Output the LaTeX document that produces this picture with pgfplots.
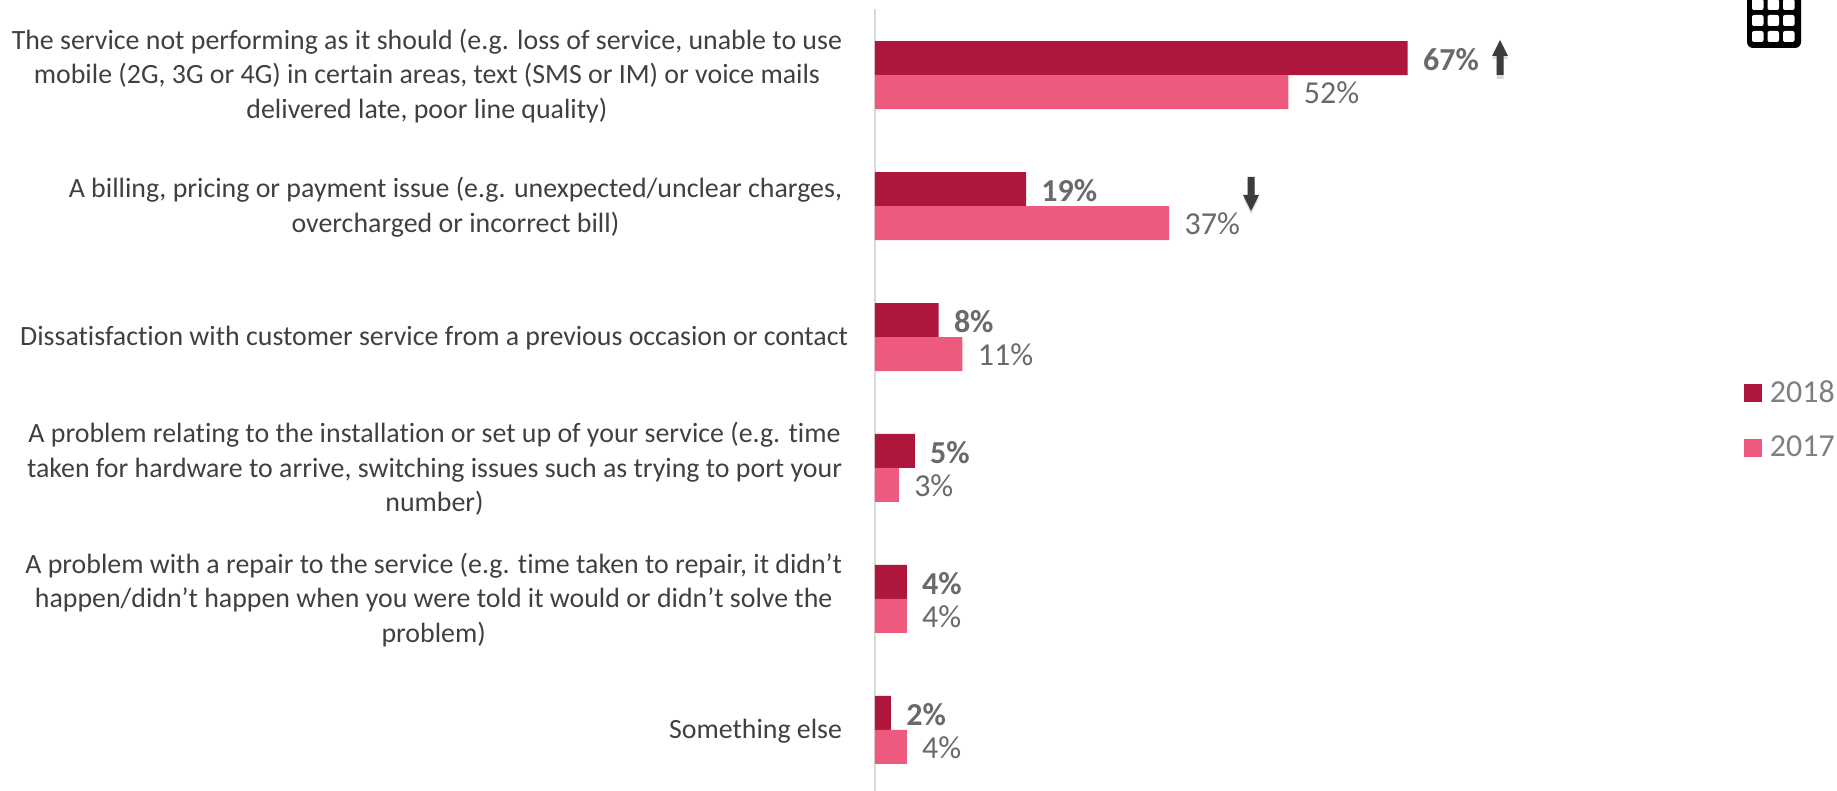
\documentclass[border=0pt]{standalone}
\usepackage{fontspec}
\setmainfont[Ligatures=NoCommon]{Carlito}
\usepackage{pgfplots}
\pgfplotsset{compat=1.18}
\definecolor{darkbar}{HTML}{AE163C}
\definecolor{lightbar}{HTML}{EE5A7E}
\definecolor{labeltext}{HTML}{404040}
\definecolor{valuetext}{HTML}{6A6A6A}
\definecolor{legendtext}{HTML}{7F7F7F}
\definecolor{arrowgrey}{HTML}{3A3D40}
\begin{document}
\begin{tikzpicture}[x=0.5pt,y=-0.5pt]
\useasboundingbox (0,0) rectangle (1837,791);
\begin{axis}[
  at={(437.5pt,-395.5pt)}, anchor=south west,
  scale only axis,
  width=481pt, height=391pt,
  xmin=0, xmax=121,
  ymin=-0.504, ymax=5.466,
  y dir=reverse,
  axis x line=none,
  axis y line*=left,
  axis line style={-, draw=black!15, line width=0.8pt},
  xbar,
  bar width=17pt,
  ytick={0,1,2,3,4,5},
  ytick style={draw=none},
  yticklabels={
    {The service not performing as it should (e.g. loss of service, unable to use\\mobile (2G, 3G or 4G) in certain areas, text (SMS or IM) or voice mails\\delivered late, poor line quality)},
    {A billing, pricing or payment issue (e.g. unexpected/unclear charges,\\overcharged or incorrect bill)},
    {Dissatisfaction with customer service from a previous occasion or contact\hspace*{-3pt}},
    {A problem relating to the installation or set up of your service (e.g. time\\taken for hardware to arrive, switching issues such as trying to port your\\number)},
    {A problem with a repair to the service (e.g. time taken to repair, it didn\char39 t\\happen/didn\char39 t happen when you were told it would or didn\char39 t solve the\\problem)},
    {Something else}},
  yticklabel style={align=center, font=\fontsize{13.94pt}{17.25pt}\selectfont, text=labeltext, inner sep=0pt, xshift=-12pt, yshift=-0.5pt},
  point meta=x,
  nodes near coords={\pgfmathprintnumber[assume math mode=true]{\pgfplotspointmeta}\%},
  nodes near coords align={horizontal},
  legend style={at={(0.9033,0.531)}, anchor=north west, draw=none, fill=none, font=\fontsize{16pt}{18pt}\selectfont, text=legendtext, row sep=11.4pt, inner sep=0pt, cells={anchor=west}},
  clip=false,
]
\addplot[bar shift=8.5pt, fill=darkbar, draw=none,
  every node near coord/.append style={font=\fontsize{16pt}{18pt}\selectfont\bfseries, text=valuetext, inner xsep=7.5pt, inner ysep=0pt, yshift=-1pt},
  legend image code/.code={\fill[darkbar] (0pt,-4.5pt) rectangle (9pt,4.5pt);}]
  coordinates {(67,0) (19,1) (8,2) (5,3) (4,4) (2,5)};
\addlegendentry{\hspace*{1.75pt}2018}
\addplot[bar shift=-8.5pt, fill=lightbar, draw=none,
  every node near coord/.append style={font=\fontsize{16pt}{18pt}\selectfont, text=valuetext, inner xsep=7.5pt, inner ysep=0pt, yshift=-0.5pt},
  legend image code/.code={\fill[lightbar] (0pt,-4.5pt) rectangle (9pt,4.5pt);}]
  coordinates {(52,0) (37,1) (11,2) (3,3) (4,4) (4,5)};
\addlegendentry{\hspace*{1.75pt}2017}
\end{axis}
% change-since-last-year arrows, with a faint drop shadow
\fill[black, opacity=0.15] (1500,43) -- (1508,59) -- (1503.5,59) -- (1503.5,79) -- (1496.5,79) -- (1496.5,59) -- (1492,59) -- cycle;
\fill[black, opacity=0.15] (1251,214) -- (1259,198) -- (1254.5,198) -- (1254.5,180) -- (1247.5,180) -- (1247.5,198) -- (1243,198) -- cycle;
\fill[arrowgrey] (1500,40) -- (1508,56) -- (1503.5,56) -- (1503.5,75) -- (1496.5,75) -- (1496.5,56) -- (1492,56) -- cycle;
\fill[arrowgrey] (1251,211) -- (1259,195) -- (1254.5,195) -- (1254.5,177) -- (1247.5,177) -- (1247.5,195) -- (1243,195) -- cycle;
% table icon, cut off by the top edge
\begin{scope}
  \clip (0,0) rectangle (1837,791);
  \fill[black, rounded corners=3pt] (1747,-20) rectangle (1801,48);
  \foreach \cx in {1752,1767.5,1783}
    \foreach \cy in {-1,15,31}
      \fill[white, rounded corners=1pt] (\cx,\cy) rectangle (\cx+11.5,\cy+11);
\end{scope}
\end{tikzpicture}
\end{document}
